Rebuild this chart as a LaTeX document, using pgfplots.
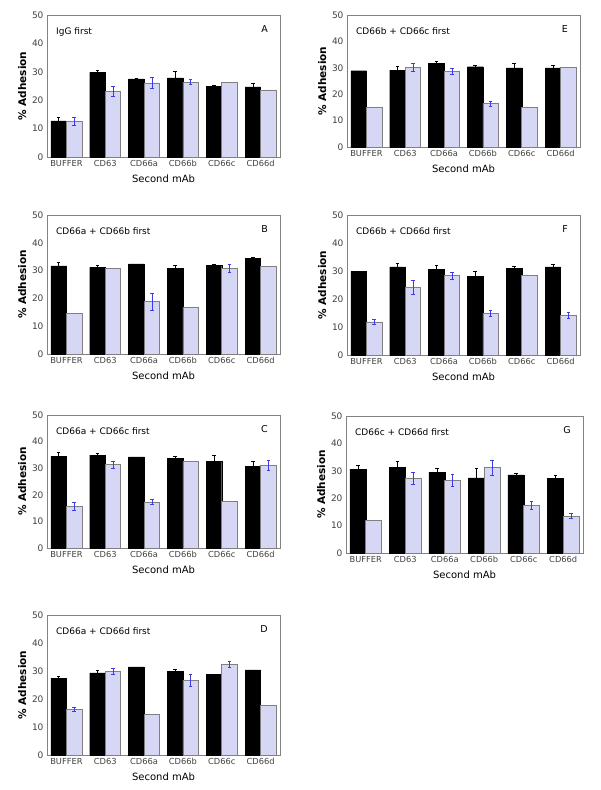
\documentclass[border=0pt]{standalone}
\usepackage{fontspec}
\setmainfont{DejaVu Sans}
\usepackage{pgfplots}
\pgfplotsset{compat=1.18}
\definecolor{lav}{RGB}{214,214,245}
\definecolor{lavedge}{RGB}{128,128,128}
\definecolor{ebl}{RGB}{60,60,225}
\definecolor{frame}{RGB}{130,130,130}
\pgfplotsset{
  panel/.style={
    scale only axis, width=233pt, anchor=south west,
    xmin=-0.5, xmax=5.5, ymin=0, ymax=50,
    ytick={0,10,...,50}, xtick={0,...,5},
    xticklabels={BUFFER,CD63,CD66a,CD66b,CD66c,CD66d},
    major tick length=0pt,
    axis line style={frame},
    /pgf/number format/assume math mode=true,
    yticklabel style={font=\fontsize{9}{10}\selectfont, text=black!75},
    xticklabel style={font=\fontsize{8.3}{10}\selectfont, text=black!75},
    xlabel={Second mAb}, ylabel={\textbf{\% Adhesion}},
    xlabel style={font=\fontsize{10}{11}\selectfont, yshift=-1pt},
    ylabel style={font=\fontsize{10.5}{11}\selectfont, yshift=-1pt},
    clip=false,
  },
  blk/.style={ybar, bar width=0.4, bar shift=-0.2, fill=black, draw=black},
  lv/.style={ybar, bar width=0.4, bar shift=0.2, fill=lav, draw=lavedge, line width=0.6pt},
  blkerr/.style={draw=none, mark=none, forget plot,
    error bars/.cd, y dir=plus, y explicit, error mark=|,
    error bar style={draw=black, line width=0.5pt},
    error mark options={draw=black, mark size=1.8pt, line width=0.5pt}},
  lverr/.style={draw=none, mark=none, forget plot,
    error bars/.cd, y dir=both, y explicit, error mark=|,
    error bar style={draw=ebl, line width=0.6pt},
    error mark options={draw=ebl, mark size=1.8pt, line width=0.6pt}},
}
\newcommand{\ptitle}[2]{%
  \node[anchor=north west, font=\fontsize{9}{10}\selectfont, inner sep=0pt] at ([xshift=9pt,yshift=-12pt]rel axis cs:0,1) {#1};
  \node[anchor=north east, font=\fontsize{9.5}{10}\selectfont, inner sep=0pt] at ([xshift=-12pt,yshift=-10pt]rel axis cs:1,1) {#2};
}
\begin{document}
\begin{tikzpicture}
\useasboundingbox (0,0) rectangle (600pt,-790pt);
% ---------- A
\begin{axis}[panel, height=142pt, at={(47pt,-157pt)}]
\addplot[blk] coordinates {(0,12.7) (1,29.8) (2,27.5) (3,27.9) (4,24.9) (5,24.7)};
\addplot[lv] coordinates {(0,12.7) (1,23.1) (2,26.1) (3,26.4) (4,26.4) (5,23.6)};
\addplot[blkerr] coordinates {(-0.2,12.7) +- (0,1.4) (0.8,29.8) +- (0,0.6) (1.8,27.5) +- (0,0.3) (2.8,27.9) +- (0,2.2) (3.8,24.9) +- (0,0.5) (4.8,24.7) +- (0,1.2)};
\addplot[lverr] coordinates {(0.2,12.7) +- (0,1.4) (1.2,23.1) +- (0,1.8) (2.2,26.1) +- (0,1.8) (3.2,26.4) +- (0,0.9)};
\ptitle{IgG first}{A}
\end{axis}
% ---------- E
\begin{axis}[panel, height=132pt, at={(347pt,-147pt)}]
\addplot[blk] coordinates {(0,28.9) (1,29.1) (2,31.8) (3,30.4) (4,30.0) (5,30.0)};
\addplot[lv] coordinates {(0,14.9) (1,30.1) (2,28.7) (3,16.5) (4,14.9) (5,30.3)};
\addplot[blkerr] coordinates {(0.8,29.1) +- (0,1.5) (1.8,31.8) +- (0,0.5) (2.8,30.4) +- (0,0.6) (3.8,30.0) +- (0,1.6) (4.8,30.0) +- (0,1.1)};
\addplot[lverr] coordinates {(1.2,30.1) +- (0,1.5) (2.2,28.7) +- (0,1.1) (3.2,16.5) +- (0,1.0)};
\ptitle{CD66b + CD66c first}{E}
\end{axis}
% ---------- B
\begin{axis}[panel, height=139pt, at={(47pt,-354pt)}]
\addplot[blk] coordinates {(0,31.7) (1,31.2) (2,32.4) (3,30.8) (4,31.8) (5,34.3)};
\addplot[lv] coordinates {(0,14.6) (1,30.7) (2,18.8) (3,16.8) (4,30.9) (5,31.4)};
\addplot[blkerr] coordinates {(-0.2,31.7) +- (0,1.2) (0.8,31.2) +- (0,0.6) (2.8,30.8) +- (0,1.0) (3.8,31.8) +- (0,0.5) (4.8,34.3) +- (0,0.6)};
\addplot[lverr] coordinates {(2.2,18.8) +- (0,3.2) (4.2,30.9) +- (0,1.4)};
\ptitle{CD66a + CD66b first}{B}
\end{axis}
% ---------- F
\begin{axis}[panel, height=140pt, at={(347pt,-355pt)}]
\addplot[blk] coordinates {(0,29.9) (1,31.5) (2,30.7) (3,28.2) (4,31.0) (5,31.5)};
\addplot[lv] coordinates {(0,11.8) (1,24.3) (2,28.3) (3,15.0) (4,28.3) (5,14.2)};
\addplot[blkerr] coordinates {(0.8,31.5) +- (0,1.2) (1.8,30.7) +- (0,1.5) (2.8,28.2) +- (0,1.8) (3.8,31.0) +- (0,0.6) (4.8,31.5) +- (0,1.0)};
\addplot[lverr] coordinates {(0.2,11.8) +- (0,0.8) (1.2,24.3) +- (0,2.5) (2.2,28.3) +- (0,1.1) (3.2,15.0) +- (0,1.1) (5.2,14.2) +- (0,1.1)};
\ptitle{CD66b + CD66d first}{F}
\end{axis}
% ---------- C
\begin{axis}[panel, height=133pt, at={(47pt,-548pt)}]
\addplot[blk] coordinates {(0,34.4) (1,34.9) (2,34.3) (3,33.6) (4,32.6) (5,30.6)};
\addplot[lv] coordinates {(0,15.6) (1,31.4) (2,17.3) (3,32.6) (4,17.6) (5,31.0)};
\addplot[blkerr] coordinates {(-0.2,34.4) +- (0,1.5) (0.8,34.9) +- (0,0.9) (2.8,33.6) +- (0,1.0) (3.8,32.6) +- (0,2.1) (4.8,30.6) +- (0,2.0)};
\addplot[lverr] coordinates {(0.2,15.6) +- (0,1.5) (1.2,31.4) +- (0,1.25) (2.2,17.3) +- (0,0.9) (5.2,31.0) +- (0,1.9)};
\ptitle{CD66a + CD66c first}{C}
\end{axis}
% ---------- G
\begin{axis}[panel, height=137pt, at={(346pt,-553pt)}, width=237pt]
\addplot[blk] coordinates {(0,30.6) (1,31.2) (2,29.5) (3,27.4) (4,28.5) (5,27.3)};
\addplot[lv] coordinates {(0,12.0) (1,27.4) (2,26.5) (3,31.1) (4,17.4) (5,13.5)};
\addplot[blkerr] coordinates {(-0.2,30.6) +- (0,1.3) (0.8,31.2) +- (0,2.2) (1.8,29.5) +- (0,1.6) (2.8,27.4) +- (0,3.7) (3.8,28.5) +- (0,0.7) (4.8,27.3) +- (0,1.0)};
\addplot[lverr] coordinates {(1.2,27.4) +- (0,2.2) (2.2,26.5) +- (0,2.1) (3.2,31.1) +- (0,2.6) (4.2,17.4) +- (0,1.3) (5.2,13.5) +- (0,0.9)};
\ptitle{CD66c + CD66d first}{G}
\end{axis}
% ---------- D
\begin{axis}[panel, height=140pt, at={(47pt,-755pt)}]
\addplot[blk] coordinates {(0,27.5) (1,29.3) (2,31.5) (3,29.9) (4,28.7) (5,30.4)};
\addplot[lv] coordinates {(0,16.3) (1,29.9) (2,14.5) (3,26.7) (4,32.4) (5,17.7)};
\addplot[blkerr] coordinates {(-0.2,27.5) +- (0,0.8) (0.8,29.3) +- (0,1.0) (2.8,29.9) +- (0,0.6)};
\addplot[lverr] coordinates {(0.2,16.3) +- (0,0.8) (1.2,29.9) +- (0,0.9) (3.2,26.7) +- (0,2.0) (4.2,32.4) +- (0,1.2)};
\ptitle{CD66a + CD66d first}{D}
\end{axis}
\end{tikzpicture}
\end{document}
